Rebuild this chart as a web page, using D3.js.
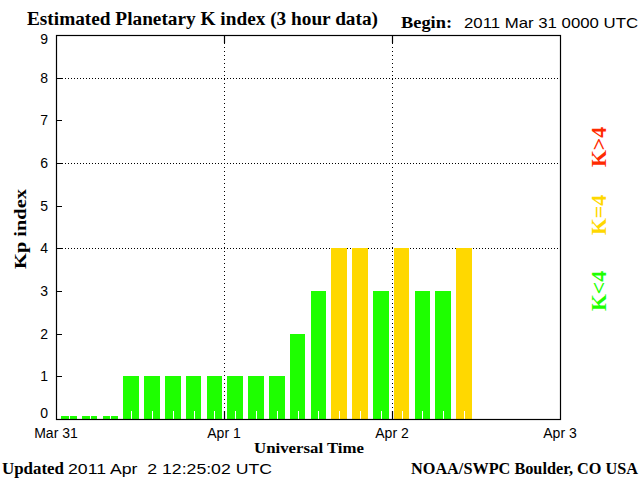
<!DOCTYPE html>
<html>
<head>
<meta charset="utf-8">
<script src="https://cdn.jsdelivr.net/npm/d3@7"></script>
<style>
  html, body { margin: 0; padding: 0; background: #fff; }
  svg { display: block; }
</style>
</head>
<body>
<svg id="chart" width="640" height="480"></svg>
<script>
// ---- data ----
const barStarts = [
  "2011-03-31T00:00Z","2011-03-31T03:00Z","2011-03-31T06:00Z","2011-03-31T09:00Z",
  "2011-03-31T12:00Z","2011-03-31T15:00Z","2011-03-31T18:00Z","2011-03-31T21:00Z",
  "2011-04-01T00:00Z","2011-04-01T03:00Z","2011-04-01T06:00Z","2011-04-01T09:00Z",
  "2011-04-01T12:00Z","2011-04-01T15:00Z","2011-04-01T18:00Z","2011-04-01T21:00Z",
  "2011-04-02T00:00Z","2011-04-02T03:00Z","2011-04-02T06:00Z","2011-04-02T09:00Z"
];
const kpValues = [0,0,0, 1,1,1,1,1,1,1,1, 2,3,4,4,3,4,3,3,4];
const yTicks = [0,1,2,3,4,5,6,7,8,9];
const yGrid = [4,6,8];
const xTickDates = ["2011-03-31T00:00Z","2011-04-01T00:00Z","2011-04-02T00:00Z","2011-04-03T00:00Z"];
const xTickLabels = ["Mar 31","Apr 1","Apr 2","Apr 3"];
const legendItems = ["K<4","K=4","K>4"];

// ---- layout ----
const L = 56, R = 560, T = 35, B = 419;
const colors = { low: "#1eff00", mid: "#ffd800", high: "#ff2a00" };
const colorFor = v => v < 4 ? colors.low : (v === 4 ? colors.mid : colors.high);

const svg = d3.select("#chart");
const t0 = new Date(xTickDates[0]), t3 = new Date(xTickDates[3]);
const x = d3.scaleUtc().domain([t0, t3]).range([L, R]);
const xBar = d3.scaleUtc().domain([t0, t3]).range([L + 5, R + 0.2]);
const y = d3.scaleLinear().domain([0, 9]).range([B, T]);

const bars = barStarts.map((s, i) => ({ t: new Date(s), v: kpValues[i] }));
const barW = 15.6;

// gridlines
svg.append("g").selectAll("line").data(yGrid).join("line")
  .attr("x1", L).attr("x2", R)
  .attr("y1", d => Math.round(y(d)) + 0.5).attr("y2", d => Math.round(y(d)) + 0.5)
  .attr("stroke", "#000").attr("stroke-width", 1).attr("stroke-dasharray", "1,2");
svg.append("g").selectAll("line").data(xTickDates.slice(1, 3)).join("line")
  .attr("x1", d => Math.round(x(new Date(d))) + 0.5).attr("x2", d => Math.round(x(new Date(d))) + 0.5)
  .attr("y1", T).attr("y2", B)
  .attr("stroke", "#000").attr("stroke-width", 1).attr("stroke-dasharray", "1,3");

// bars
svg.append("g").selectAll("rect").data(bars).join("rect")
  .attr("x", d => xBar(d.t))
  .attr("width", barW)
  .attr("y", d => Math.min(y(d.v), B - 3))
  .attr("height", d => Math.max(B - y(d.v), 3))
  .attr("fill", d => colorFor(d.v))
  .attr("shape-rendering", "crispEdges");

// white marks at bar centres
svg.append("g").selectAll("line").data(bars).join("line")
  .attr("x1", d => Math.round(xBar(d.t) + barW / 2) + 0.5)
  .attr("x2", d => Math.round(xBar(d.t) + barW / 2) + 0.5)
  .attr("y1", B - 8).attr("y2", B)
  .attr("stroke", "#fff").attr("stroke-width", 1);

// frame
svg.append("rect").attr("x", L + 0.5).attr("y", T + 0.5)
  .attr("width", R - L).attr("height", B - T)
  .attr("fill", "none").attr("stroke", "#000").attr("stroke-width", 1.2);

// y ticks (inward)
svg.append("g").selectAll("line").data(yTicks.slice(1, 9)).join("line")
  .attr("x1", L).attr("x2", L + 6)
  .attr("y1", d => Math.round(y(d)) + 0.5).attr("y2", d => Math.round(y(d)) + 0.5)
  .attr("stroke", "#000").attr("stroke-width", 1);
// x ticks (inward, bottom and top)
const midTicks = xTickDates.slice(1, 3).map(d => new Date(d));
svg.append("g").selectAll("line").data(midTicks).join("line")
  .attr("x1", d => Math.round(x(d)) + 0.5).attr("x2", d => Math.round(x(d)) + 0.5)
  .attr("y1", B - 8).attr("y2", B).attr("stroke", "#000").attr("stroke-width", 1.2);
svg.append("g").selectAll("line").data(midTicks).join("line")
  .attr("x1", d => Math.round(x(d)) + 0.5).attr("x2", d => Math.round(x(d)) + 0.5)
  .attr("y1", T).attr("y2", T + 8).attr("stroke", "#000").attr("stroke-width", 1.2);

// y tick labels
const sans = "'Liberation Sans', Arial, sans-serif";
const serif = "'Liberation Serif', 'Times New Roman', serif";
svg.append("g").selectAll("text").data(yTicks).join("text")
  .attr("x", L - 8)
  .attr("y", d => y(d) + 5 + (d === 0 ? -6 : d === 9 ? 4 : 0))
  .attr("text-anchor", "end")
  .attr("font-family", sans).attr("font-size", 14)
  .text(d => d);

// x tick labels
svg.append("g").selectAll("text").data(xTickDates).join("text")
  .attr("x", d => x(new Date(d)))
  .attr("y", 438)
  .attr("text-anchor", "middle")
  .attr("font-family", sans).attr("font-size", 14)
  .text((d, i) => xTickLabels[i]);

// titles
function txt(s, xx, yy, opts) {
  const e = svg.append("text").attr("x", xx).attr("y", yy)
    .attr("font-family", opts.family).attr("font-size", opts.size)
    .attr("font-weight", opts.weight || "normal")
    .attr("fill", opts.fill || "#000")
    .attr("text-anchor", opts.anchor || "start")
    .text(s);
  if (opts.len) e.attr("textLength", opts.len).attr("lengthAdjust", "spacingAndGlyphs");
  if (opts.rotate) e.attr("transform", `rotate(-90 ${xx} ${yy})`);
  return e;
}
txt("Estimated Planetary K index (3 hour data)", 27, 25, { family: serif, size: 18, weight: "bold", len: 351 });
txt("Begin:", 401, 28, { family: serif, size: 16, weight: "bold", len: 51 });
txt("2011 Mar 31 0000 UTC", 464, 28, { family: sans, size: 15, len: 174 });
txt("Kp index", 26, 229, { family: serif, size: 16, weight: "bold", anchor: "middle", rotate: true, len: 80 });
txt("Universal Time", 309, 453, { family: serif, size: 15, weight: "bold", anchor: "middle", len: 110 });
txt("Updated", 2, 474, { family: serif, size: 16, weight: "bold", len: 62 });
txt("2011 Apr  2 12:25:02 UTC", 68, 474, { family: sans, size: 15, len: 204 }).attr("xml:space", "preserve").style("white-space", "pre");
txt("NOAA/SWPC Boulder, CO USA", 638, 474, { family: serif, size: 16, weight: "bold", anchor: "end", len: 227 });

// legend (rotated)
const legendY = [291, 215, 147];
const legendColors = [colors.low, colors.mid, colors.high];
legendItems.forEach((s, i) => {
  txt(s, 606, legendY[i], { family: serif, size: 22, weight: "bold", anchor: "middle", rotate: true, fill: legendColors[i], len: 40 });
});
</script>
</body>
</html>
